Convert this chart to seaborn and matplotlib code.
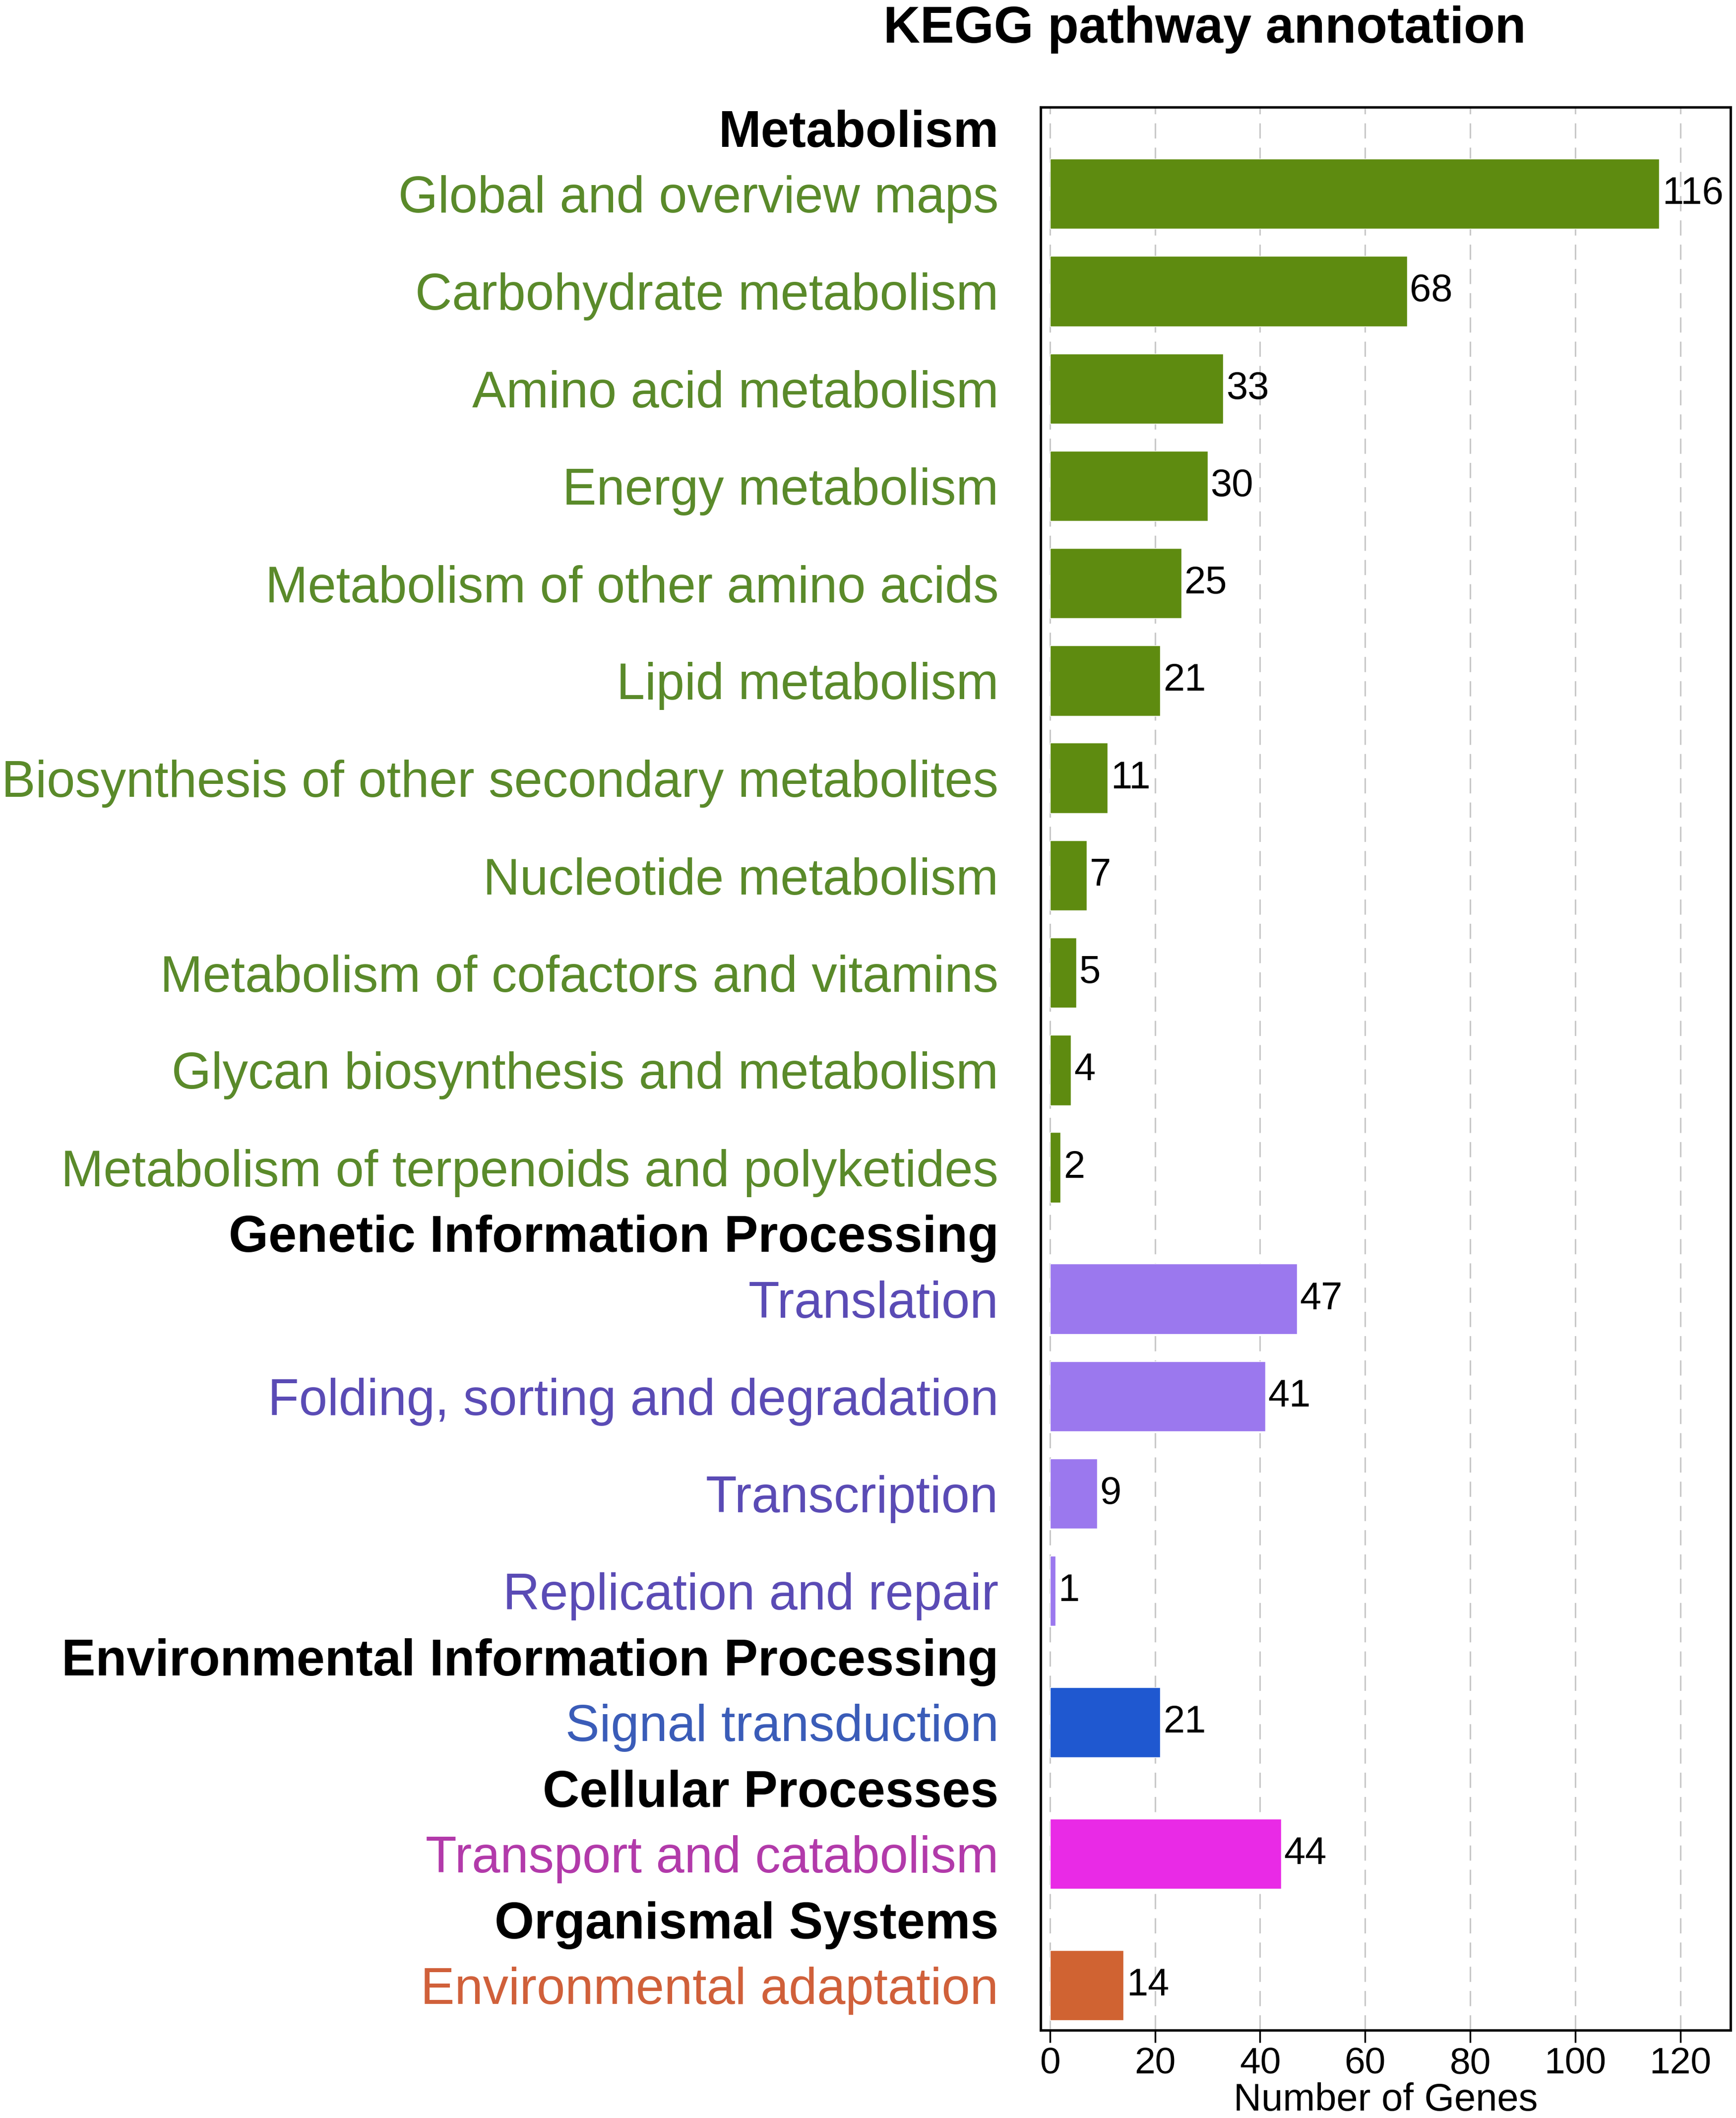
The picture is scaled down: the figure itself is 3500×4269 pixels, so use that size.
import pandas as pd
import numpy as np
import matplotlib
matplotlib.use("Agg")
import matplotlib.pyplot as plt
import seaborn as sns

# Datos
categories = [
    "Global and overview maps", "Carbohydrate metabolism", "Amino acid metabolism",
    "Energy metabolism", "Metabolism of other amino acids", "Lipid metabolism",
    "Biosynthesis of other secondary metabolites", "Nucleotide metabolism",
    "Metabolism of cofactors and vitamins", "Glycan biosynthesis and metabolism",
    "Metabolism of terpenoids and polyketides",
    "Translation", "Folding, sorting and degradation", "Transcription",
    "Replication and repair",
    "Signal transduction",
    "Transport and catabolism",
    "Environmental adaptation",
]
counts = [116, 68, 33, 30, 25, 21, 11, 7, 5, 4, 2, 47, 41, 9, 1, 21, 44, 14]
groups = ["Metabolism"] * 11 + ["Genetic Information Processing"] * 4 + \
    ["Environmental Information Processing"] + ["Cellular Processes"] + \
    ["Organismal Systems"]
x_ticks = [0, 20, 40, 60, 80, 100, 120]

bar_colors = {
    "Metabolism": "#5e8b10",
    "Genetic Information Processing": "#9b78ee",
    "Environmental Information Processing": "#1f58d0",
    "Cellular Processes": "#e92ae6",
    "Organismal Systems": "#d06332",
}
label_colors = {
    "Metabolism": "#5a8a2a",
    "Genetic Information Processing": "#5a4bb5",
    "Environmental Information Processing": "#3a5cb8",
    "Cellular Processes": "#b23aaa",
    "Organismal Systems": "#d0603a",
}

# Posiciones verticales: un hueco extra para el titulo de cada grupo
ypos = []
header_pos = []
y = -1.0
prev = None
for g in groups:
    if g != prev:
        y += 1.35 if prev is not None else 1.0
        header_pos.append((y - 0.675, g))
    else:
        y += 1.0
    ypos.append(y)
    prev = g

df = pd.DataFrame({"category": categories, "count": counts,
                   "group": groups, "ypos": ypos})

sns.set_theme(style="white")
plt.rcParams["font.family"] = ["Liberation Sans", "DejaVu Sans"]
plt.rcParams["text.color"] = "black"
plt.rcParams["xtick.color"] = "black"
plt.rcParams["axes.labelcolor"] = "black"

fig = plt.figure(figsize=(35, 42.69), dpi=100)
ax = fig.add_axes([0.5994, 0.0415, 0.3975, 0.9079])

sns.barplot(data=df, x="count", y="ypos", hue="group", palette=bar_colors,
            orient="y", native_scale=True, dodge=False, width=0.72,
            errorbar=None, legend=False, saturation=1, ax=ax)

ax.set_xlim(-1.8, 129.6)
ax.set_ylim(ypos[-1] + 0.46, -0.89)

# etiquetas de valores
for c, yy in zip(counts, ypos):
    ax.annotate(str(c), (c, yy), xytext=(4, 0), textcoords="offset points",
                ha="left", va="center", fontsize=56, color="black")

# etiquetas del eje y (categorias y grupos)
tick_pos = list(ypos) + [p for p, _ in header_pos]
tick_lab = list(categories) + [g for _, g in header_pos]
ax.set_yticks(tick_pos)
ax.set_yticklabels(tick_lab)
ax.tick_params(axis="y", length=0, pad=61, labelsize=74)
for t in ax.get_yticklabels():
    txt = t.get_text()
    if txt in bar_colors:
        t.set_color("black")
        t.set_fontweight("bold")
    else:
        t.set_color(label_colors[groups[categories.index(txt)]])

ax.set_xticks(x_ticks)
ax.tick_params(axis="x", length=18, width=2.5, color="black", labelsize=54,
               labelcolor="black", pad=6, bottom=True, direction="out")
ax.xaxis.grid(True, linestyle=(0, (10, 6)), color="#c8c8c8", linewidth=2.2)
ax.yaxis.grid(False)
ax.set_axisbelow(True)
for s in ax.spines.values():
    s.set_color("black")
    s.set_linewidth(3.5)

ax.set_xlabel("Number of Genes", fontsize=56, labelpad=2, color="black")
ax.set_ylabel("")

fig.text(0.694, 0.986, "KEGG pathway annotation", ha="center", va="center",
         fontsize=74, fontweight="bold", color="black")

fig.savefig("out.png", dpi=100, facecolor="white")
